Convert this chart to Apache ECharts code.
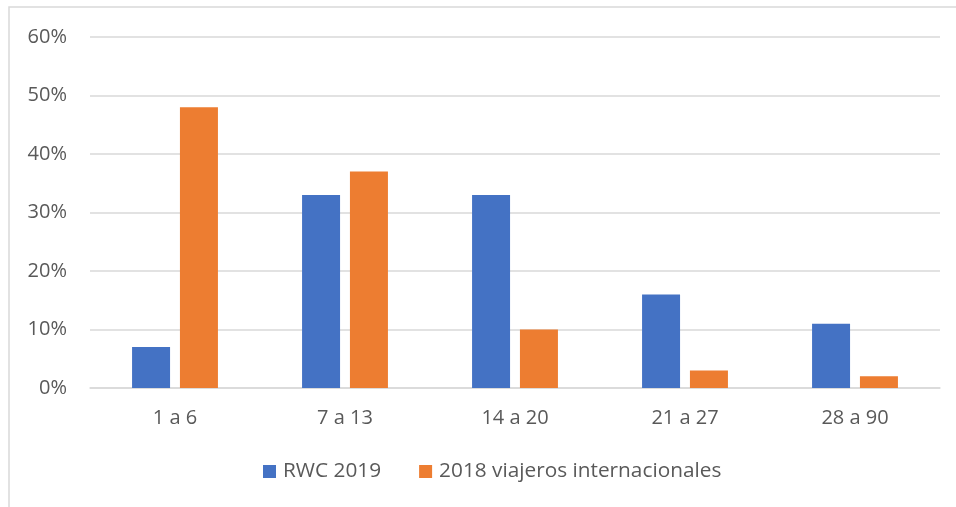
<!DOCTYPE html>
<html><head><meta charset="utf-8">
<script src="https://cdn.jsdelivr.net/npm/echarts@6/dist/echarts.min.js"></script>
<style>html,body{margin:0;padding:0;background:#fff}#c{width:956px;height:507px}</style>
</head><body><div id="c"></div>
<script>
const categories = ['1 a 6', '7 a 13', '14 a 20', '21 a 27', '28 a 90'];
const rwc2019 = [7, 33, 33, 16, 11];
const viajeros2018 = [48, 37, 10, 3, 2];
const seriesNames = ['RWC 2019', '2018 viajeros internacionales'];

const chart = echarts.init(document.getElementById('c'), null, {renderer: 'canvas'});
const txt = '#595959';
const font = 'Open Sans';
chart.setOption({
  animation: false,
  backgroundColor: '#fff',
  graphic: [{
    type: 'rect', shape: {x: 9, y: 7, width: 1000, height: 600},
    style: {fill: 'none', stroke: '#d9d9d9', lineWidth: 1.5}, z: -1
  }],
  grid: {left: 90, right: 16, top: 37, bottom: 119, containLabel: false},
  legend: {
    bottom: 20, left: 258, itemWidth: 13, itemHeight: 13, itemGap: 38,
    icon: 'rect',
    textStyle: {color: txt, fontSize: 20.8, fontFamily: font, padding: [0, 0, 0, 2]},
    data: seriesNames
  },
  xAxis: {
    type: 'category', data: categories,
    axisLine: {show: true, lineStyle: {color: '#d9d9d9', width: 1.5}},
    axisTick: {show: false},
    axisLabel: {color: txt, fontSize: 20, fontFamily: font, margin: 20}
  },
  yAxis: {
    type: 'value', min: 0, max: 60, interval: 10,
    axisLine: {show: false}, axisTick: {show: false},
    splitLine: {lineStyle: {color: '#d9d9d9', width: 1.5}},
    axisLabel: {color: txt, fontSize: 20, fontFamily: font, margin: 23, formatter: '{value}%'}
  },
  series: [
    {name: seriesNames[0], type: 'bar', data: rwc2019, barWidth: 38, barGap: '26%',
     itemStyle: {color: '#4472C4'}},
    {name: seriesNames[1], type: 'bar', data: viajeros2018, barWidth: 38, barGap: '26%',
     itemStyle: {color: '#ED7D31'}}
  ]
});
</script></body></html>
